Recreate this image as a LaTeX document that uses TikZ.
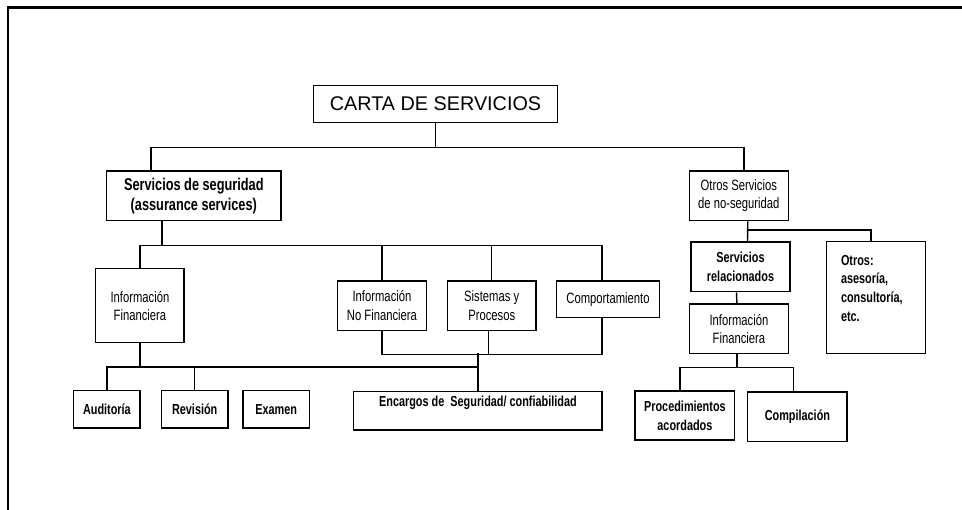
\documentclass[tikz,border=0pt]{standalone}
\usepackage{fontspec}
\setmainfont{Liberation Sans}[FakeStretch=0.75]
\newfontfamily\widefont{Liberation Sans}
\usepackage{tikz}

\begin{document}
\begin{tikzpicture}[x=1pt, y=-1pt,
  box/.style={draw, line width=1.4pt, inner sep=2pt, align=center,
    font=\fontsize{15}{18.5}\selectfont},
  bbox/.style={box, font=\fontsize{14.5}{18.8}\selectfont\bfseries},
  link/.style={line width=1.4pt}]
\useasboundingbox (0,0) rectangle (962,510);
\draw[line width=3pt] (7,8) -- (962,8);
\draw[line width=1.6pt] (8,8) -- (8,510);
\node[box, minimum width=243.6pt, minimum height=37.4pt, font=\widefont\fontsize{19.8}{23}\selectfont] (carta) at (435.5,104) {CARTA DE SERVICIOS};
\node[bbox, minimum width=174.3pt, minimum height=49.5pt, font=\fontsize{17}{20}\selectfont\bfseries] (seg) at (193.8,195.8) {Servicios de seguridad\\(assurance services)};
\node[box, minimum width=99pt, minimum height=49.7pt] (otros) at (738.8,195.8) {Otros Servicios\\de no-seguridad};
\node[box, minimum width=88.3pt, minimum height=74pt] (finA) at (139.9,305.3) {~\\[-6pt]Información\\Financiera};
\node[box, minimum width=89pt, minimum height=49.5pt] (nofin) at (382,305.8) {Información\\No Financiera};
\node[box, minimum width=88.7pt, minimum height=49.5pt] (sist) at (491.7,305.8) {Sistemas y\\Procesos};
\node[box, minimum width=102.6pt, minimum height=36.5pt] (comp) at (608,299.3) {Comportamiento};
\node[bbox, minimum width=66.3pt, minimum height=37.3pt] (aud) at (106.9,409.4) {Auditoría};
\node[bbox, minimum width=66.7pt, minimum height=37.3pt] (rev) at (194.7,409.4) {Revisión};
\node[bbox, minimum width=66.3pt, minimum height=37.3pt] (exa) at (276.2,409.4) {Examen};
\node[bbox, minimum width=248.3pt, minimum height=38.3pt] (enc) at (477.9,410.9) {Encargos de~ Seguridad/ confiabilidad\\\mbox{}};
\node[bbox, minimum width=99pt, minimum height=49.7pt] (rel) at (740.5,266.9) {Servicios\\relacionados};
\node[bbox, minimum width=99.4pt, minimum height=112pt, text width=70pt, align=left] (otr) at (876,297.7) {Otros:\\asesoría,\\consultoría,\\etc.\\\mbox{}};
\node[box, minimum width=99.2pt, minimum height=49.7pt] (finB) at (738.9,328.9) {Información\\Financiera};
\node[bbox, minimum width=99.7pt, minimum height=49pt] (proc) at (684.9,415.5) {Procedimientos\\acordados};
\node[bbox, minimum width=99.3pt, minimum height=49.3pt] (compil) at (797.4,416.7) {Compilación};
\draw[link] (carta.south) -- ++(0,24) -| ([xshift=-43pt]seg.north);
\draw[link] (carta.south) ++(0,24) -| ([xshift=5pt]otros.north);
\draw[link] ([xshift=-32pt]seg.south) -- ++(0,24) coordinate (b2);
\foreach \n/\s in {finA/0,nofin/0,sist/0,comp/-6}
\draw[link] (b2) -| ([xshift=\s pt]\n.north);
\draw[link] (nofin.south) -- ++(0,23.5) -| ([xshift=-6pt]comp.south);
\draw[link] ([xshift=-3pt]sist.south) -- ++(0,23.5);
\draw[link] (enc.north) -- ++(0,-37.7);
\draw[link] (finA.south) -- ++(0,24.2) coordinate (b4);
\draw[link] (aud.north) |- (enc.north |- b4);
\draw[link] (rev.north) -- (rev.north |- b4);
\draw[link] ([xshift=9pt]otros.south) -- ([xshift=7pt]rel.north);
\draw[link] ([xshift=9pt]otros.south) ++(0,8.6) -| ([xshift=-5pt]otr.north);
\draw[link] ([xshift=-4pt]rel.south) -- ([xshift=-2pt]finB.north);
\draw[link] ([xshift=-2pt]finB.south) -- ++(0,13) coordinate (b5);
\draw[link] (b5) -| ([xshift=-5pt]proc.north);
\draw[link] (b5) -| ([xshift=-4pt]compil.north);
\end{tikzpicture}
\end{document}
